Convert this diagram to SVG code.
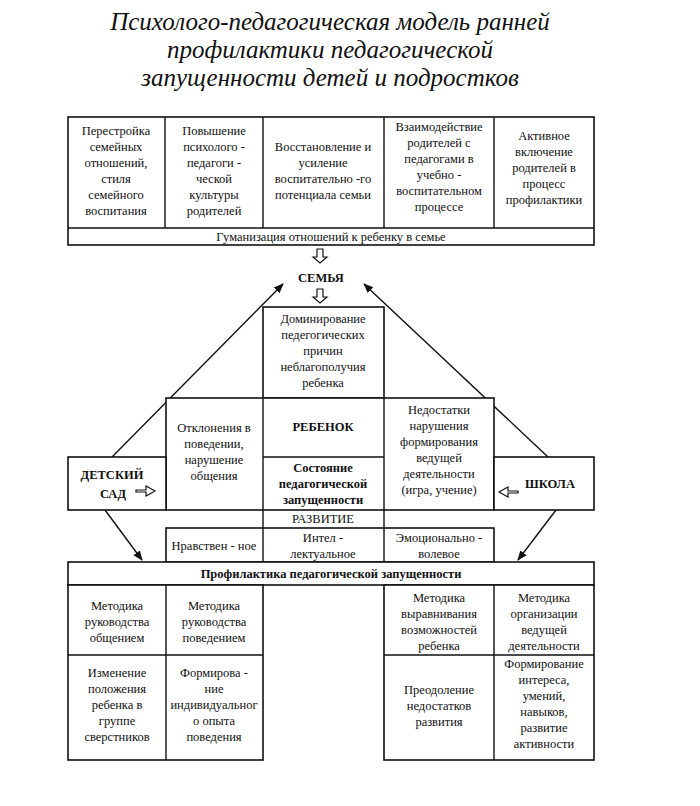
<svg xmlns="http://www.w3.org/2000/svg" width="700" height="806" viewBox="0 0 700 806">
<style>
text{font-family:"Liberation Serif","Times New Roman",serif;font-size:12.5px;fill:#111;text-anchor:middle}
.t{font-size:25px;font-style:italic}
.b{font-weight:bold}
rect,.box{fill:#fff;stroke:#111;stroke-width:1.6}
.ln{stroke:#111;stroke-width:1.4;fill:none}
.ha{fill:#fff;stroke:#111;stroke-width:1.2}
</style>
<defs><marker id="ar" markerWidth="10" markerHeight="10" refX="9" refY="5" orient="auto" markerUnits="userSpaceOnUse"><path d="M0,1 L10,5 L0,9 z" fill="#111"/></marker></defs>
<g id="title">
<text class="t" x="330" y="30">Психолого-педагогическая модель ранней</text>
<text class="t" x="330" y="58">профилактики педагогической</text>
<text class="t" x="330" y="86">запущенности детей и подростков</text>
</g>
<g id="top">
<rect x="68" y="117" width="526" height="128"/>
<path class="ln" d="M68 228H594M165 117V228M263 117V228M384 117V228M494 117V228"/>
<text x="116" y="135">Перестройка</text><text x="116" y="151">семейных</text><text x="116" y="167">отношений,</text><text x="116" y="183">стиля</text><text x="116" y="199">семейного</text><text x="116" y="215">воспитания</text>
<text x="214" y="135">Повышение</text><text x="214" y="151">психолого -</text><text x="214" y="167">педагоги -</text><text x="214" y="183">ческой</text><text x="214" y="199">культуры</text><text x="214" y="215">родителей</text>
<text x="323" y="151">Восстановление и</text><text x="323" y="167">усиление</text><text x="323" y="183">воспитательно -го</text><text x="323" y="199">потенциала семьи</text>
<text x="439" y="131">Взаимодействие</text><text x="439" y="147">родителей с</text><text x="439" y="163">педагогами в</text><text x="439" y="179">учебно -</text><text x="439" y="195">воспитательном</text><text x="439" y="211">процессе</text>
<text x="544" y="140">Активное</text><text x="544" y="156">включение</text><text x="544" y="172">родителей в</text><text x="544" y="188">процесс</text><text x="544" y="204">профилактики</text>
<text x="331" y="241">Гуманизация отношений к ребенку в семье</text>
</g>
<g id="semya">
<path class="ha" d="M317 249h6v8h4l-7 6l-7-6h4z"/>
<text class="b" x="321" y="282" font-size="13">СЕМЬЯ</text>
<path class="ha" d="M317 289h6v8h4l-7 6l-7-6h4z"/>
</g>
<g id="connectors">
<path class="ln" d="M112 457L283 284" marker-end="url(#ar)"/>
<path class="ln" d="M548 457L364 284" marker-end="url(#ar)"/>
<path class="ln" d="M105 510L142 560" marker-end="url(#ar)"/>
<path class="ln" d="M556 510L518 560" marker-end="url(#ar)"/>
</g>
<g id="child">
<rect x="263" y="307" width="121" height="91"/>
<text x="323" y="323">Доминирование</text><text x="323" y="339">педегогических</text><text x="323" y="355">причин</text><text x="323" y="371">неблагополучия</text><text x="323" y="387">ребенка</text>
<rect x="166" y="398" width="328" height="112"/>
<path class="ln" d="M263 398V510M384 398V510M263 457H384"/>
<text x="214" y="432">Отклонения в</text><text x="214" y="448">поведении,</text><text x="214" y="464">нарушение</text><text x="214" y="480">общения</text>
<text class="b" x="323" y="431">РЕБЕНОК</text>
<text class="b" x="323" y="472">Состояние</text><text class="b" x="323" y="488">педагогической</text><text class="b" x="323" y="504">запущенности</text>
<text x="439" y="414">Недостатки</text><text x="439" y="430">нарушения</text><text x="439" y="446">формирования</text><text x="439" y="462">ведущей</text><text x="439" y="478">деятельности</text><text x="439" y="494">(игра, учение)</text>
</g>
<g id="sad">
<rect x="68" y="457" width="98" height="53"/>
<text class="b" x="112" y="479">ДЕТСКИЙ</text><text class="b" x="113" y="498">САД</text>
<path class="ha" d="M136 490h10v-4l9 5l-9 5v-4h-10z"/>
</g>
<g id="shkola">
<rect x="494" y="457" width="100" height="53"/>
<text class="b" x="550" y="488">ШКОЛА</text>
<path class="ha" d="M518 491h-10v-4l-9 5l9 5v-4h10z"/>
</g>
<g id="razvitie">
<path class="ln" d="M263 510V528M384 510V528"/>
<text x="323" y="523">РАЗВИТИЕ</text>
<rect x="166" y="528" width="328" height="34"/>
<path class="ln" d="M263 528V562M384 528V562"/>
<text x="214" y="550">Нравствен - ное</text>
<text x="323" y="542">Интел -</text><text x="323" y="558">лектуальное</text>
<text x="439" y="542">Эмоционально -</text><text x="439" y="558">волевое</text>
</g>
<g id="prof">
<rect x="68" y="562" width="526" height="23"/>
<text class="b" x="331" y="578">Профилактика педагогической запущенности</text>
</g>
<g id="left">
<rect x="68" y="585" width="195" height="175"/>
<path class="ln" d="M166 585V760M68 655H263"/>
<text x="117" y="610">Методика</text><text x="117" y="626">руководства</text><text x="117" y="642">общением</text>
<text x="214" y="610">Методика</text><text x="214" y="626">руководства</text><text x="214" y="642">поведением</text>
<text x="117" y="677">Изменение</text><text x="117" y="693">положения</text><text x="117" y="709">ребенка в</text><text x="117" y="725">группе</text><text x="117" y="741">сверстников</text>
<text x="214" y="677">Формирова -</text><text x="214" y="693">ние</text><text x="214" y="709">индивидуальног</text><text x="214" y="725">о опыта</text><text x="214" y="741">поведения</text>
</g>
<g id="right">
<rect x="384" y="585" width="210" height="175"/>
<path class="ln" d="M494 585V760M384 655H594"/>
<text x="439" y="602">Методика</text><text x="439" y="618">выравнивания</text><text x="439" y="634">возможностей</text><text x="439" y="650">ребенка</text>
<text x="544" y="602">Методика</text><text x="544" y="618">организации</text><text x="544" y="634">ведущей</text><text x="544" y="650">деятельности</text>
<text x="439" y="694">Преодоление</text><text x="439" y="710">недостатков</text><text x="439" y="726">развития</text>
<text x="544" y="668">Формирование</text><text x="544" y="684">интереса,</text><text x="544" y="700">умений,</text><text x="544" y="716">навыков,</text><text x="544" y="732">развитие</text><text x="544" y="748">активности</text>
</g>
</svg>
